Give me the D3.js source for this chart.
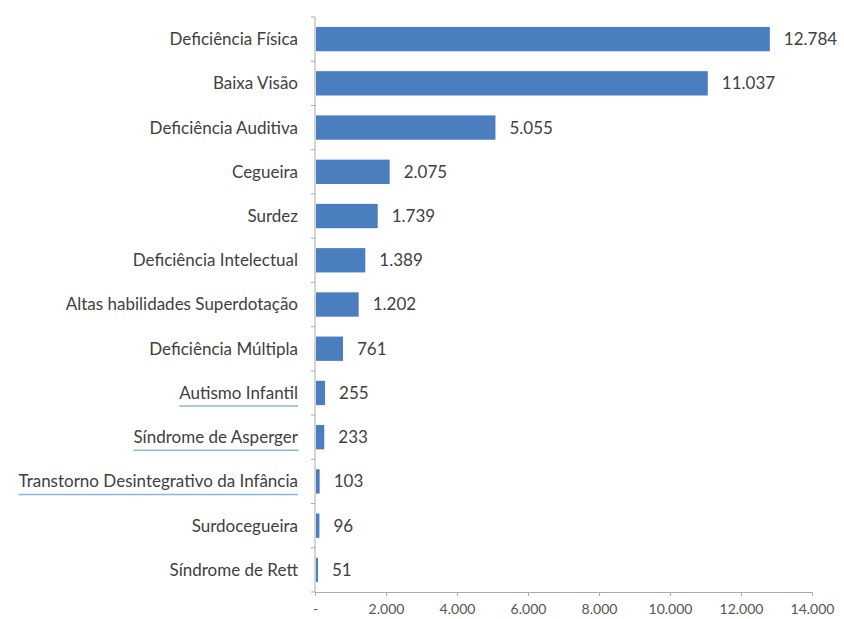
<!DOCTYPE html>
<html>
<head>
<meta charset="utf-8">
<script src="https://cdn.jsdelivr.net/npm/d3@7"></script>
<style>
  body { margin: 0; background: #fff; }
  svg text { font-family: Lato, "Open Sans", sans-serif; }
</style>
</head>
<body>
<svg id="chart"></svg>
<script>
// categories top to bottom, with counts
const categories = [
  "Deficiência Física", "Baixa Visão", "Deficiência Auditiva", "Cegueira", "Surdez",
  "Deficiência Intelectual", "Altas habilidades Superdotação", "Deficiência Múltipla",
  "Autismo Infantil", "Síndrome de Asperger", "Transtorno Desintegrativo da Infância",
  "Surdocegueira", "Síndrome de Rett"
];
const values = [12784, 11037, 5055, 2075, 1739, 1389, 1202, 761, 255, 233, 103, 96, 51];
const underlined = ["Autismo Infantil", "Síndrome de Asperger", "Transtorno Desintegrativo da Infância"];
const xTicks = [0, 2000, 4000, 6000, 8000, 10000, 12000, 14000];

const width = 844, height = 619;
const margin = { top: 17, right: 32, bottom: 27, left: 315 };

const svg = d3.select("#chart")
  .attr("width", width)
  .attr("height", height);

const fmt = v => v === 0 ? "-" : d3.format(",")(v).replace(/,/g, ".");

const x = d3.scaleLinear()
  .domain([0, 14000])
  .range([margin.left, width - margin.right]);

const y = d3.scaleBand()
  .domain(categories)
  .range([margin.top, height - margin.bottom])
  .paddingInner(0.45)
  .paddingOuter(0.225);

// x axis
const xAxis = svg.append("g")
  .attr("transform", `translate(0,${height - margin.bottom})`)
  .call(d3.axisBottom(x).tickValues(xTicks).tickFormat(fmt).tickSize(4).tickSizeOuter(0));
xAxis.select(".domain").attr("stroke", "#aaa");
xAxis.selectAll(".tick line").attr("stroke", "#aaa");
xAxis.selectAll(".tick text")
  .attr("fill", "#555")
  .attr("font-size", 14)
  .attr("y", 12)
  .attr("dy", "0.71em");

// y axis: line with ticks at band boundaries
const yAxis = svg.append("g");
yAxis.append("line")
  .attr("x1", x(0)).attr("x2", x(0))
  .attr("y1", margin.top).attr("y2", height - margin.bottom)
  .attr("stroke", "#aaa");
const step = y.step();
yAxis.selectAll(".ytick")
  .data(d3.range(categories.length + 1))
  .enter()
  .append("line")
  .attr("x1", x(0) - 4).attr("x2", x(0))
  .attr("y1", i => margin.top + i * step)
  .attr("y2", i => margin.top + i * step)
  .attr("stroke", "#aaa");

// bars
svg.selectAll(".bar")
  .data(categories)
  .enter()
  .append("rect")
  .attr("class", "bar")
  .attr("x", x(0) + 1)
  .attr("y", d => y(d))
  .attr("width", (d, i) => Math.max(2, x(values[i]) - x(0)))
  .attr("height", y.bandwidth())
  .attr("fill", "#4a7ebf");

// value labels
svg.selectAll(".val")
  .data(categories)
  .enter()
  .append("text")
  .attr("x", (d, i) => Math.max(x(values[i]), x(0) + 2) + 15)
  .attr("y", d => y(d) + y.bandwidth() / 2)
  .attr("dy", "0.35em")
  .attr("font-size", 17)
  .attr("fill", "#404040")
  .text((d, i) => fmt(values[i]));

// category labels
const labels = svg.selectAll(".cat")
  .data(categories)
  .enter()
  .append("text")
  .attr("x", x(0) - 17)
  .attr("y", d => y(d) + y.bandwidth() / 2)
  .attr("dy", "0.35em")
  .attr("text-anchor", "end")
  .attr("font-size", 17)
  .attr("fill", "#404040")
  .text(d => d);

// blue underline for a few labels
labels.filter(d => underlined.includes(d)).each(function(d) {
  const b = this.getBBox();
  svg.append("line")
    .attr("x1", b.x).attr("x2", b.x + b.width)
    .attr("y1", y(d) + y.bandwidth() / 2 + 13)
    .attr("y2", y(d) + y.bandwidth() / 2 + 13)
    .attr("stroke", "#8db4e2")
    .attr("stroke-width", 1.5);
});
</script>
</body>
</html>
